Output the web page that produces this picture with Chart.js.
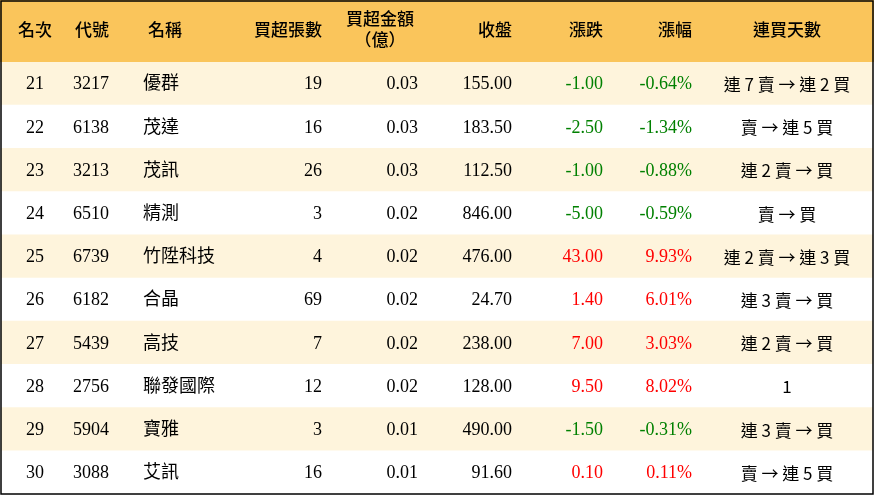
<!DOCTYPE html>
<html><head><meta charset="utf-8">
<script src="https://cdn.jsdelivr.net/npm/chart.js@4"></script>
<style>html,body{margin:0;padding:0;background:#fff}#w{width:874px;height:496px}</style>
</head><body><div id="w"><canvas id="c"></canvas></div>
<script>
const headers=["名次","代號","名稱","買超張數","買超金額\n（億）","收盤","漲跌","漲幅","連買天數"];
const ranks=["21","22","23","24","25","26","27","28","29","30"];
const codes=["3217","6138","3213","6510","6739","6182","5439","2756","5904","3088"];
const names=["優群","茂達","茂訊","精測","竹陞科技","合晶","高技","聯發國際","寶雅","艾訊"];
const volumes=[19,16,26,3,4,69,7,12,3,16];
const amounts=[0.03,0.03,0.03,0.02,0.02,0.02,0.02,0.02,0.01,0.01];
const closes=[155.00,183.50,112.50,846.00,476.00,24.70,238.00,128.00,490.00,91.60];
const changes=[-1.00,-2.50,-1.00,-5.00,43.00,1.40,7.00,9.50,-1.50,0.10];
const pcts=[-0.64,-1.34,-0.88,-0.59,9.93,6.01,3.03,8.02,-0.31,0.11];
const streaks=["連 7 賣 → 連 2 買","賣 → 連 5 買","連 2 賣 → 買","賣 → 買","連 2 賣 → 連 3 買","連 3 賣 → 買","連 2 賣 → 買","1","連 3 賣 → 買","賣 → 連 5 買"];
const FONT='"Liberation Serif","Noto Sans CJK TC",serif';
const SFONT='"Noto Sans CJK TC","Liberation Serif",serif';
const cols=[{x:35,a:'center'},{x:73,a:'left'},{x:143,a:'left'},{x:322,a:'right'},{x:418,a:'right'},{x:512,a:'right'},{x:603,a:'right'},{x:692,a:'right'},{x:787,a:'center'}];
const hdrX=[35,92,165,322,380,512,603,692,787];
const hdrA=['center','center','center','right','center','right','right','right','center'];
const tablePlugin={id:'tbl',
beforeDatasetsDraw(ch){const c=ch.ctx;c.save();c.fillStyle='#FAC55B';c.fillRect(0,0,874,ch.chartArea.top);c.restore();},
afterDatasetsDraw(ch){const c=ch.ctx,y=ch.scales.y;c.save();
c.fillStyle='#000';c.textBaseline='middle';c.font='500 17px '+FONT;
headers.forEach((h,i)=>{c.textAlign=hdrA[i];const ls=h.split('\n');
if(ls.length==1)c.fillText(h,hdrX[i],32);else{c.fillText(ls[0],hdrX[i],21);c.fillText(ls[1],hdrX[i],42);}});
ranks.forEach((r,i)=>{const py=y.getPixelForValue(i);
const col=changes[i]<0?'#008000':'#FF0000';
const vals=[r,codes[i],names[i],String(volumes[i]),amounts[i].toFixed(2),closes[i].toFixed(2),changes[i].toFixed(2),pcts[i].toFixed(2)+'%',streaks[i]];
vals.forEach((v,j)=>{c.textAlign=cols[j].a;c.fillStyle=(j==6||j==7)?col:'#000';
c.font=(j==8?'17px '+SFONT:'18px '+FONT);c.fillText(v,cols[j].x,py+1);});});
c.strokeStyle='#000';c.lineWidth=1.5;c.strokeRect(1,1,872,493);c.restore();}};
new Chart(document.getElementById('c'),{type:'bar',
data:{labels:ranks,datasets:[{data:ranks.map(()=>1),backgroundColor:ranks.map((_,i)=>i%2==0?'#FEF4DC':'#FFFFFF'),barPercentage:1,categoryPercentage:1,borderWidth:0}]},
options:{indexAxis:'y',responsive:true,maintainAspectRatio:false,animation:false,
layout:{padding:{top:62,left:1,right:1,bottom:2}},
plugins:{legend:{display:false},tooltip:{enabled:false}},
scales:{x:{display:false,min:0,max:1},y:{display:false}}},
plugins:[tablePlugin]});
</script></body></html>
